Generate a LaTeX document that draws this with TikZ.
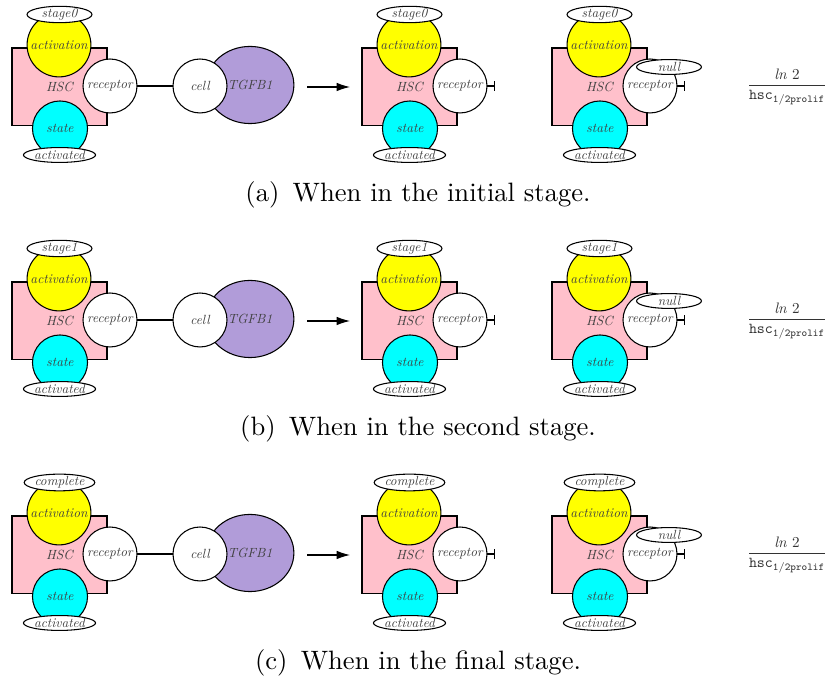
\documentclass[tikz,border=0pt]{standalone}
\usepackage{amssymb,amsmath}
\usetikzlibrary{shapes,calc,positioning,arrows.meta}
\definecolor{hscpink}{RGB}{255,192,203}
\definecolor{tgfpurple}{RGB}{177,156,217}
\definecolor{actyellow}{RGB}{255,255,0}
\definecolor{stcyan}{RGB}{0,255,255}

\begin{document}
\begin{tikzpicture}[x=0.376pt,y=-0.376pt]
\tikzstyle{lbl}=[font=\itshape,text=black!75,inner sep=0pt,scale=0.5]
\tikzstyle{hscbox}=[lbl,draw,fill=hscpink,minimum width=71.4pt,minimum height=58.6pt]
\tikzstyle{act}=[lbl,draw,circle,fill=actyellow,minimum size=48pt]
\tikzstyle{st}=[lbl,draw,circle,fill=stcyan,minimum size=41.4pt]
\tikzstyle{rcp}=[lbl,draw,circle,fill=white,minimum size=40.6pt]
\tikzstyle{tag}=[lbl,draw,ellipse,fill=white,minimum width=48.8pt,minimum height=11.2pt]
\tikzstyle{tgf}=[lbl,draw,ellipse,fill=tgfpurple,minimum width=66pt,minimum height=58pt]
\useasboundingbox (0,0) rectangle (827,679);
\foreach \oy/\stg/\cap [count=\i] in {0/stage0/{(a)\hspace{.5em}When in the initial stage.},
  234/stage1/{(b)\hspace{.5em}When in the second stage.},
  468/complete/{(c)\hspace{.5em}When in the final stage.}} {
  % three copies of the cell
  \foreach \gx [count=\j] in {0,350,540} {
    \node[hscbox] (hsc\i\j) at (\gx+59.5,\oy+87) {HSC};
    \node[act] (act\i\j) at (\gx+59,\oy+45) {activation};
    \node[st] (st\i\j) at (\gx+60,\oy+128.5) {state};
    \node[rcp] (rcp\i\j) at (\gx+110,\oy+86) {receptor};
    \node[tag] (stg\i\j) at (\gx+59.5,\oy+14.5) {\stg};
    \node[tag] (atd\i\j) at (\gx+59.5,\oy+155) {activated};
  }
  \node[tgf] (tgf\i) at (250,\oy+85) {TGFB1};
  \node[rcp] (cell\i) at (200,\oy+86) {cell};
  \draw[thick] (rcp\i1) -- (cell\i);
  \coordinate (in\i) at (307,\oy+87);
  \coordinate (out\i) at (350,\oy+87);
  \draw[-{Latex[length=5pt,width=3.2pt]}] (in\i) -- (out\i);
  \coordinate (b2\i) at (495,\oy+86);
  \draw[-{Bar[width=3.5pt]}] (rcp\i2) -- (b2\i);
  \node[tag] (null\i) at (669,\oy+67) {null};
  \coordinate (b3\i) at (685,\oy+86);
  \draw[-{Bar[width=3.5pt]}] (rcp\i3.east) -- (b3\i);
  \node[text=black!80,scale=0.57] (frac\i) at (787,\oy+87) {$\dfrac{\mathit{ln}\;2}{\mathtt{hsc}_{\mathtt{1/2prolif}}}$};
  \node (cap\i) at (418,\oy+195) {\cap};
}
\end{tikzpicture}
\end{document}
